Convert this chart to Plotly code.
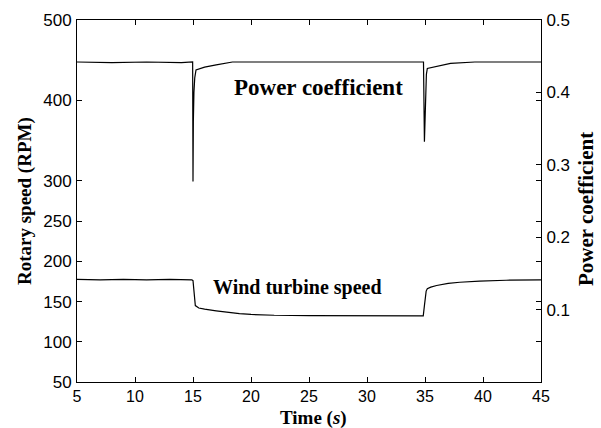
import plotly.graph_objects as go

# Wind turbine rotary speed (RPM), left axis
speed_time = [5, 7, 9, 11, 13, 14.9, 15.0, 15.1, 15.2, 15.5, 16, 17, 18, 19, 20, 22, 25, 28, 30, 34.85,
              34.95, 35.1, 35.2, 35.5, 36, 37, 38, 39.7, 42, 45]
speed_rpm = [177.5, 177, 177.5, 177, 177.5, 177, 176, 160, 145, 142, 140.5, 138.5, 136.5, 135, 134, 133,
             132.5, 132.2, 132.2, 132.2, 145, 163, 166, 168, 170, 172.5, 174, 175.5, 176.5, 177]

# Power coefficient, right axis
cp_time = [5, 8, 11, 14, 14.97, 15.0, 15.03, 15.08, 15.15, 15.26, 15.6, 16, 17, 18.4, 20, 25, 30, 34.87,
           34.95, 35.0, 35.05, 35.12, 35.2, 36, 37.2, 39.3, 42, 45]
cp_val = [0.442, 0.441, 0.442, 0.441, 0.442, 0.277, 0.36, 0.40, 0.42, 0.431, 0.433, 0.435, 0.438, 0.442,
          0.442, 0.442, 0.442, 0.442, 0.332, 0.375, 0.39, 0.425, 0.433, 0.436, 0.440, 0.442, 0.442, 0.442]

left_ticks = [50, 100, 150, 200, 250, 300, 400, 500]
right_ticks = [0.1, 0.2, 0.3, 0.4, 0.5]
x_ticks = [5, 10, 15, 20, 25, 30, 35, 40, 45]

serif = "Liberation Serif, Times New Roman, serif"
sans = "Liberation Sans, Arial, sans-serif"

fig = go.Figure()
fig.add_trace(go.Scatter(x=speed_time, y=speed_rpm, mode="lines",
                         line=dict(color="black", width=1.2), yaxis="y"))
fig.add_trace(go.Scatter(x=cp_time, y=cp_val, mode="lines",
                         line=dict(color="black", width=1.2), yaxis="y2"))

fig.add_annotation(x=25.8, y=416, xref="x", yref="y", text="<b>Power coefficient</b>",
                   showarrow=False, font=dict(family=serif, size=23, color="black"))
fig.add_annotation(x=24.05, y=167, xref="x", yref="y", text="<b>Wind turbine speed</b>",
                   showarrow=False, font=dict(family=serif, size=20, color="black"))

# axis titles
fig.add_annotation(x=0.51, y=-0.1, xref="paper", yref="paper", text="<b>Time (<i>s</i>)</b>",
                   showarrow=False, xanchor="center", yanchor="middle",
                   font=dict(family=serif, size=19, color="black"))
fig.add_annotation(x=-0.112, y=0.5, xref="paper", yref="paper", text="<b>Rotary speed (RPM)</b>",
                   showarrow=False, xanchor="center", yanchor="middle", textangle=-90,
                   font=dict(family=serif, size=19, color="black"))
fig.add_annotation(x=1.097, y=0.478, xref="paper", yref="paper", text="<b>Power coefficient</b>",
                   showarrow=False, xanchor="center", yanchor="middle", textangle=-90,
                   font=dict(family=serif, size=21, color="black"))

fig.update_layout(
    width=601, height=428,
    margin=dict(l=77, r=60, t=20, b=46),
    plot_bgcolor="white", paper_bgcolor="white",
    showlegend=False,
    xaxis=dict(range=[5, 45], tickvals=x_ticks, ticks="inside", ticklen=5, tickcolor="black",
               showline=True, linecolor="black", linewidth=1, mirror="ticks",
               showgrid=False, zeroline=False, ticklabelstandoff=0, automargin=False,
               tickfont=dict(family=sans, size=16, color="black")),
    yaxis=dict(range=[50, 500], tickvals=left_ticks, ticks="inside", ticklen=5, tickcolor="black",
               showline=True, linecolor="black", linewidth=1, mirror="ticks",
               showgrid=False, zeroline=False, ticklabelstandoff=1, automargin=False,
               tickfont=dict(family=sans, size=17, color="black")),
    yaxis2=dict(range=[0, 0.5], tickvals=right_ticks, ticktext=["0.1", "0.2", "0.3", "0.4", "0.5"],
                overlaying="y", side="right", ticks="inside", ticklen=5, tickcolor="black",
                showline=True, linecolor="black", linewidth=1, automargin=False,
                showgrid=False, zeroline=False, ticklabelstandoff=1,
                tickfont=dict(family=sans, size=17, color="black")),
)

fig.write_html("out.html")
